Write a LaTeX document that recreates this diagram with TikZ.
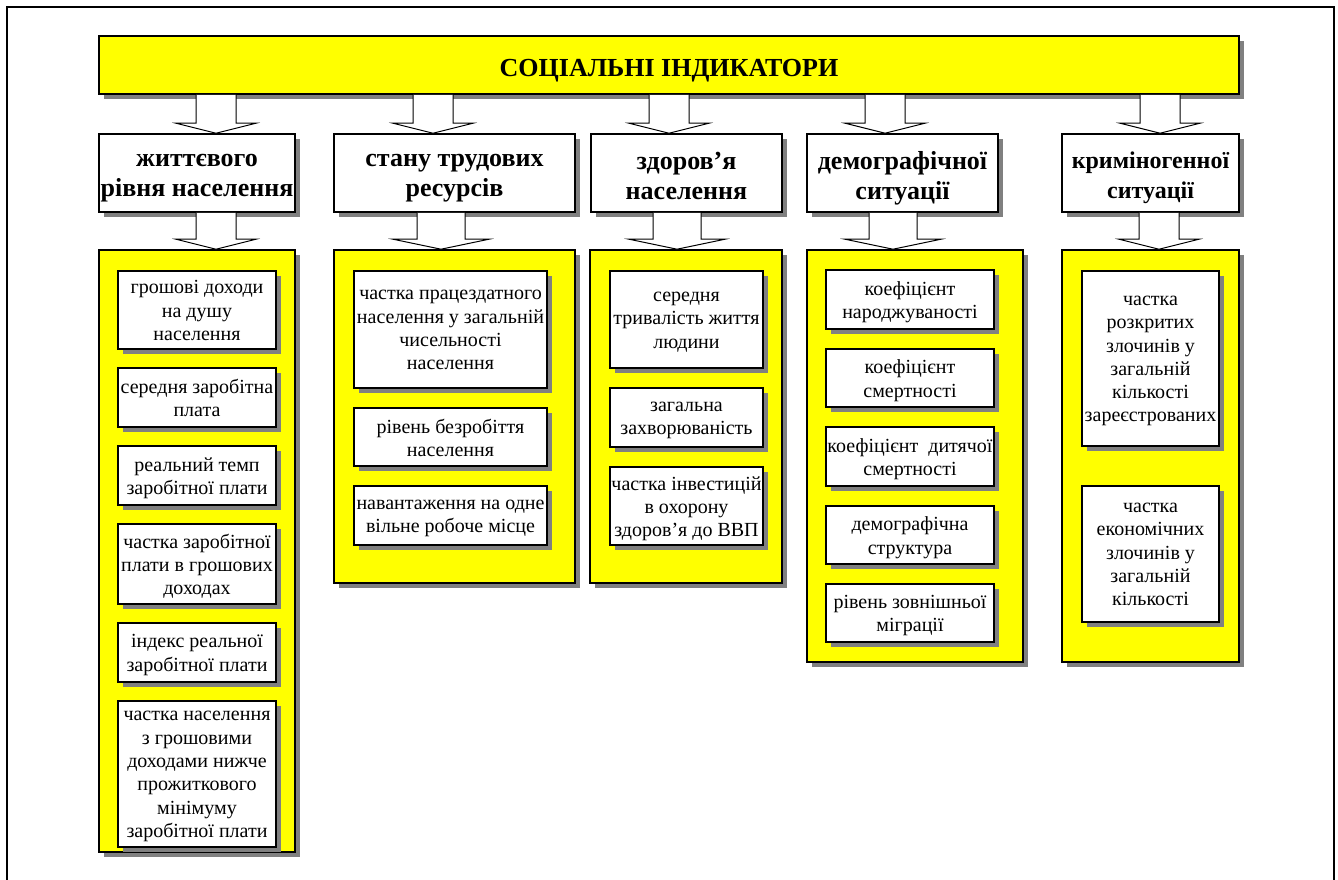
\documentclass[tikz,border=0pt]{standalone}
\usepackage{fontspec}
\setmainfont{Liberation Serif}
\usetikzlibrary{shadows,calc}
\definecolor{panelyellow}{HTML}{FFFF00}
\definecolor{shadowgray}{HTML}{808080}
\newcommand\mybox[7]{% style, name, x1, x2, y1, y2, text
  \node[#1, minimum width={(#4-#3)*1pt}, minimum height={(#6-#5)*1pt}] (#2) at ({(#3+#4)/2},{(#5+#6)/2}) {};
  \node[#1txt] at (#2.center) {#7};}
\newcommand\barrow[5]{% cx, upper node, lower node, shaft half width, head half width
  \draw[barr] let \p1=(#1,0), \p2=(#2.south), \p3=(#3.north) in
    (\x1-#4pt,\y2) -- (\x1-#4pt,\y3+10pt) -- (\x1-#5pt,\y3+10pt) -- (\x1,\y3)
    -- (\x1+#5pt,\y3+10pt) -- (\x1+#4pt,\y3+10pt) -- (\x1+#4pt,\y2);}
\begin{document}
\begin{tikzpicture}[x=1pt,y=-1pt,
  shd/.style={drop shadow={shadow xshift=5pt,shadow yshift=-5pt,fill=shadowgray,opacity=1}},
  struts/.style={execute at begin node=\strut,execute at end node=\strut},
  banner/.style={shd,draw=black,line width=1.6pt,fill=panelyellow,inner sep=0pt},
  bannertxt/.style={struts,font=\fontsize{26}{30}\selectfont\bfseries,align=center,yshift=-5pt},
  cat/.style={shd,draw=black,line width=1.6pt,fill=white,inner sep=0pt},
  cattxt/.style={struts,font=\fontsize{26}{30}\selectfont\bfseries,align=center,yshift=-7pt},
  catsm/.style={cat},
  catsmtxt/.style={struts,font=\fontsize{24}{30}\selectfont\bfseries,align=center,yshift=-7pt},
  panel/.style={shd,draw=black,line width=1.6pt,fill=panelyellow,inner sep=0pt},
  paneltxt/.style={},
  item/.style={shd,draw=black,line width=1.5pt,fill=white,inner sep=0pt},
  itemtxt/.style={struts,font=\fontsize{20}{23.3}\selectfont,align=center,yshift=-4pt},
  barr/.style={draw=black,line width=1pt,fill=white,line join=miter}]
\useasboundingbox (0,0) rectangle (1338,879);
\draw[line width=2pt] (7,7) rectangle (1334,890);

\mybox{banner}{banner}{99}{1239}{36}{94}{СОЦІАЛЬНІ ІНДИКАТОРИ}

% category boxes
\mybox{cat}{c1}{99}{295}{134}{212}{життєвого\\рівня населення}
\mybox{cat}{c2}{334}{575}{134}{212}{стану трудових\\ресурсів}
\mybox{cat}{c3}{591}{782}{134}{212}{здоров’я\\населення}
\mybox{cat}{c4}{807}{998}{134}{212}{демографічної\\ситуації}
\mybox{catsm}{c5}{1062}{1239}{134}{212}{криміногенної\\ситуації}

% panels
\mybox{panel}{p1}{99}{295}{250}{852}{}
\mybox{panel}{p2}{334}{575}{250}{583}{}
\mybox{panel}{p3}{590}{782}{250}{583}{}
\mybox{panel}{p4}{807}{1023}{250}{662}{}
\mybox{panel}{p5}{1062}{1239}{250}{662}{}

% items column 1
\mybox{item}{i11}{118}{276}{271}{349}{грошові доходи\\на душу\\населення}
\mybox{item}{i12}{118}{276}{368}{427}{середня заробітна\\плата}
\mybox{item}{i13}{118}{276}{446}{505}{реальний темп\\заробітної плати}
\mybox{item}{i14}{118}{276}{524}{604}{частка заробітної\\плати в грошових\\доходах}
\mybox{item}{i15}{118}{276}{623}{682}{індекс реальної\\заробітної плати}
\mybox{item}{i16}{118}{276}{701}{847}{частка населення\\з грошовими\\доходами нижче\\прожиткового\\мінімуму\\заробітної плати}
% column 2
\mybox{item}{i21}{354}{547}{271}{388}{частка працездатного\\населення у загальній\\чисельності\\населення}
\mybox{item}{i22}{354}{547}{408}{466}{рівень безробіття\\населення}
\mybox{item}{i23}{354}{547}{486}{545}{навантаження на одне\\вільне робоче місце}
% column 3
\mybox{item}{i31}{610}{763}{271}{368}{середня\\тривалість життя\\людини}
\mybox{item}{i32}{610}{763}{388}{447}{загальна\\захворюваність}
\mybox{item}{i33}{610}{763}{467}{545}{частка інвестицій\\в охорону\\здоров’я до ВВП}
% column 4
\mybox{item}{i41}{826}{994}{270}{329}{коефіцієнт\\народжуваності}
\mybox{item}{i42}{826}{994}{349}{407}{коефіцієнт\\смертності}
\mybox{item}{i43}{826}{994}{427}{486}{коефіцієнт\ \ дитячої\\смертності}
\mybox{item}{i44}{826}{994}{506}{564}{демографічна\\структура}
\mybox{item}{i45}{826}{994}{584}{642}{рівень зовнішньої\\міграції}
% column 5
\mybox{item}{i51}{1082}{1219}{271}{446}{частка\\розкритих\\злочинів у\\загальній\\кількості\\зареєстрованих}
\mybox{item}{i52}{1082}{1219}{486}{622}{частка\\економічних\\злочинів у\\загальній\\кількості}

% block arrows banner -> categories
\barrow{216}{banner}{c1}{20}{40}
\barrow{433}{banner}{c2}{20}{40}
\barrow{669}{banner}{c3}{20}{40}
\barrow{885}{banner}{c4}{20}{40}
\barrow{1160}{banner}{c5}{20}{40}
% block arrows categories -> panels
\barrow{216}{c1}{p1}{20}{40}
\barrow{441}{c2}{p2}{24}{48}
\barrow{677}{c3}{p3}{24}{48}
\barrow{893}{c4}{p4}{24}{48}
\barrow{1159}{c5}{p5}{20}{40}
\end{tikzpicture}
\end{document}
